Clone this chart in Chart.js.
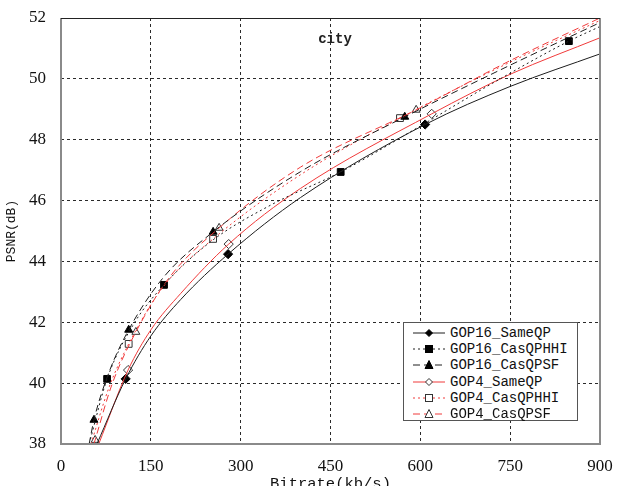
<!DOCTYPE html>
<html>
<head>
<meta charset="utf-8">
<script src="https://cdn.jsdelivr.net/npm/chart.js@4.4.1/dist/chart.umd.min.js"></script>
<style>
  html, body { margin: 0; padding: 0; background: #fff; }
  #wrap { position: relative; width: 618px; height: 486px; overflow: hidden; }
  #title { position: absolute; left: 300px; top: 31px; width: 70px; text-align: center;
           font: bold 14px "Liberation Mono", monospace; color: #222; }
  #legend { position: absolute; left: 403px; top: 322px; width: 175px; height: 99px;
            border: 1px solid #555; background: #fff; box-sizing: border-box; padding-top: 2px; }
  .row { height: 16.2px; display: flex; align-items: center; }
  .row svg { margin-left: 7px; width: 36px; height: 14px; flex: none; }
  .row span { margin-left: 3px; font: 14px "Liberation Mono", monospace; color: #111; white-space: nowrap; }
</style>
</head>
<body>
<div id="wrap">
  <canvas id="c" width="618" height="486"></canvas>
  <div id="title">city</div>
  <div id="legend"></div>
</div>
<script>
// ---- data ----
const seriesNames = ["GOP16_SameQP", "GOP16_CasQPHHI", "GOP16_CasQPSF", "GOP4_SameQP", "GOP4_CasQPHHI", "GOP4_CasQPSF"];
const xTicks = [0, 150, 300, 450, 600, 750, 900];
const yTicks = [38, 40, 42, 44, 46, 48, 50, 52];

// measured points (markers)
const gop16SameQP_rate = [108, 279, 608];
const gop16SameQP_psnr = [40.14, 44.24, 48.5];
const gop16CasHHI_rate = [77, 172, 467, 848];
const gop16CasHHI_psnr = [40.14, 43.23, 46.94, 51.24];
const gop16CasSF_rate = [55, 113, 254, 574];
const gop16CasSF_psnr = [38.79, 41.75, 44.97, 48.75];
const gop4SameQP_rate = [112, 280, 619];
const gop4SameQP_psnr = [40.43, 44.57, 48.85];
const gop4CasHHI_rate = [113, 254, 566];
const gop4CasHHI_psnr = [41.29, 44.74, 48.71];
const gop4CasSF_rate = [57, 125, 264, 593];
const gop4CasSF_psnr = [38.13, 41.68, 45.1, 48.98];

// fitted curves
const gop16SameQP_curveRate = [60, 108, 150, 200, 279, 400, 608, 750, 900];
const gop16SameQP_curvePsnr = [38.0, 40.14, 41.55, 42.75, 44.24, 46.1, 48.5, 49.75, 50.82];
const gop16CasHHI_curveRate = [47, 77, 120, 172, 250, 350, 467, 600, 720, 848, 900];
const gop16CasHHI_curvePsnr = [38.0, 40.14, 41.9, 43.23, 44.65, 45.85, 46.94, 48.45, 49.85, 51.24, 51.72];
const gop16CasSF_curveRate = [47, 55, 80, 113, 170, 254, 400, 574, 750, 900];
const gop16CasSF_curvePsnr = [38.0, 38.79, 40.35, 41.75, 43.45, 44.97, 46.95, 48.75, 50.45, 51.85];
const gop4SameQP_curveRate = [63, 112, 150, 200, 280, 400, 619, 750, 900];
const gop4SameQP_curvePsnr = [38.0, 40.43, 41.75, 42.95, 44.57, 46.4, 48.85, 50.15, 51.35];
const gop4CasHHI_curveRate = [50, 80, 113, 170, 254, 400, 566, 750, 900];
const gop4CasHHI_curvePsnr = [38.0, 39.85, 41.29, 43.15, 44.74, 46.85, 48.71, 50.55, 51.92];
const gop4CasSF_curveRate = [55, 85, 125, 180, 264, 400, 593, 750, 900];
const gop4CasSF_curvePsnr = [38.0, 39.95, 41.68, 43.45, 45.1, 47.1, 48.98, 50.6, 52.0];

// ---- styles ----
const BLACK = "#1e1e1e", RED = "#f03a3a";
const styles = [
  { color: BLACK, dash: [], marker: "rectRot", fill: true },
  { color: BLACK, dash: [2, 3], marker: "rect", fill: true },
  { color: BLACK, dash: [7, 4], marker: "triangle", fill: true },
  { color: RED, dash: [], marker: "rectRot", fill: false },
  { color: RED, dash: [2, 3], marker: "rect", fill: false },
  { color: RED, dash: [7, 4], marker: "triangle", fill: false }
];
const curves = [
  [gop16SameQP_curveRate, gop16SameQP_curvePsnr],
  [gop16CasHHI_curveRate, gop16CasHHI_curvePsnr],
  [gop16CasSF_curveRate, gop16CasSF_curvePsnr],
  [gop4SameQP_curveRate, gop4SameQP_curvePsnr],
  [gop4CasHHI_curveRate, gop4CasHHI_curvePsnr],
  [gop4CasSF_curveRate, gop4CasSF_curvePsnr]
];
const marks = [
  [gop16SameQP_rate, gop16SameQP_psnr],
  [gop16CasHHI_rate, gop16CasHHI_psnr],
  [gop16CasSF_rate, gop16CasSF_psnr],
  [gop4SameQP_rate, gop4SameQP_psnr],
  [gop4CasHHI_rate, gop4CasHHI_psnr],
  [gop4CasSF_rate, gop4CasSF_psnr]
];
const zip = (xs, ys) => xs.map((x, i) => ({ x: x, y: ys[i] }));

const datasets = [];
seriesNames.forEach((name, i) => {
  const s = styles[i];
  datasets.push({
    label: name + " fit",
    data: zip(curves[i][0], curves[i][1]),
    showLine: true,
    borderColor: s.color,
    borderWidth: 1,
    borderDash: s.dash,
    pointRadius: 0,
    cubicInterpolationMode: "monotone",
    fill: false
  });
});
seriesNames.forEach((name, i) => {
  const s = styles[i];
  datasets.push({
    label: name,
    data: zip(marks[i][0], marks[i][1]),
    showLine: false,
    pointStyle: s.marker,
    pointRadius: s.marker === "rect" ? 4.8 : 4.6,
    pointBackgroundColor: s.fill ? "#000" : "#fff",
    pointBorderColor: s.fill ? "#000" : "#333",
    pointBorderWidth: 1
  });
});

const framePlugin = {
  id: "frame",
  afterDatasetsDraw(chart) {
    const { ctx, chartArea: a } = chart;
    ctx.save();
    ctx.strokeStyle = "#8a8a8a";
    ctx.lineWidth = 2;
    ctx.beginPath();
    ctx.moveTo(a.left, a.top); ctx.lineTo(a.left, a.bottom); ctx.lineTo(a.right, a.bottom); ctx.lineTo(a.right, a.top);
    ctx.stroke();
    ctx.strokeStyle = "#222";
    ctx.lineWidth = 1;
    ctx.beginPath();
    ctx.moveTo(a.left, a.top + 0.5); ctx.lineTo(a.right, a.top + 0.5);
    ctx.stroke();
    ctx.restore();
  }
};

new Chart(document.getElementById("c"), {
  type: "scatter",
  data: { datasets: datasets },
  plugins: [framePlugin],
  options: {
    responsive: false,
    devicePixelRatio: 1,
    animation: false,
    layout: { padding: { top: 18, right: 18, left: 0, bottom: 0 } },
    plugins: { legend: { display: false }, tooltip: { enabled: false }, title: { display: false } },
    scales: {
      x: {
        type: "linear", min: 0, max: 900,
        afterBuildTicks: (sc) => { sc.ticks = xTicks.map(v => ({ value: v })); },
        afterFit: (sc) => { sc.height = 42; sc.paddingLeft = 0; sc.paddingRight = 0; sc.paddingTop = 0; sc.paddingBottom = 0; },
        ticks: { font: { family: "Liberation Serif", size: 17 }, color: "#111", padding: 12, maxRotation: 0 },
        grid: { color: "#2a2a2a", lineWidth: 1, drawTicks: false },
        border: { display: false, dash: [3, 3] },
        title: { display: true, text: "Bitrate(kb/s)", font: { family: "Liberation Mono", size: 15.5 }, color: "#111", padding: { top: 0, bottom: -7 } }
      },
      y: {
        type: "linear", min: 38, max: 52,
        afterBuildTicks: (sc) => { sc.ticks = yTicks.map(v => ({ value: v })); },
        afterFit: (sc) => { sc.width = 61; sc.paddingLeft = 0; sc.paddingRight = 0; sc.paddingTop = 0; sc.paddingBottom = 0; },
        ticks: { font: { family: "Liberation Serif", size: 17 }, color: "#111", padding: 15 },
        grid: { color: "#2a2a2a", lineWidth: 1, drawTicks: false },
        border: { display: false, dash: [3, 3] },
        title: { display: true, text: "PSNR(dB)", font: { family: "Liberation Mono", size: 13 }, color: "#111", padding: { top: 4, bottom: 0 } }
      }
    }
  }
});

// ---- HTML legend ----
const legend = document.getElementById("legend");
seriesNames.forEach((name, i) => {
  const s = styles[i];
  const dash = s.dash.length ? `stroke-dasharray="${s.dash.join(",")}"` : "";
  const fill = s.fill ? "#000" : "#fff";
  const stroke = s.fill ? "#000" : "#333";
  let m = "";
  if (s.marker === "rectRot") m = `<polygon points="18,3.5 21.5,7 18,10.5 14.5,7" fill="${fill}" stroke="${stroke}" stroke-width="1"/>`;
  if (s.marker === "rect") m = `<rect x="14.5" y="3.5" width="7" height="7" fill="${fill}" stroke="${stroke}" stroke-width="1"/>`;
  if (s.marker === "triangle") m = `<polygon points="18,2.5 22,10.5 14,10.5" fill="${fill}" stroke="${stroke}" stroke-width="1"/>`;
  const row = document.createElement("div");
  row.className = "row";
  row.innerHTML = `<svg viewBox="0 0 36 14"><line x1="2" y1="7" x2="34" y2="7" stroke="${s.color}" stroke-width="1" ${dash}/>${m}</svg><span>${name}</span>`;
  legend.appendChild(row);
});
</script>
</body>
</html>
